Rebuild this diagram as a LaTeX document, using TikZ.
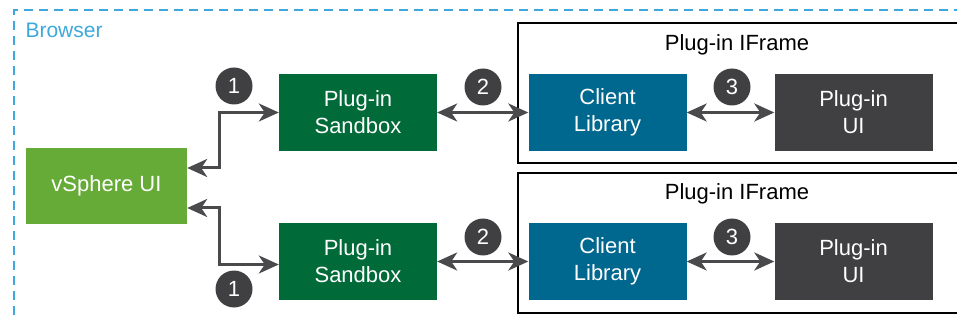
\documentclass[tikz,border=0pt]{standalone}
\usepackage{fontspec}
\setmainfont{Liberation Sans}
\usetikzlibrary{arrows.meta,positioning}
\definecolor{vsgreen}{HTML}{66AA37}
\definecolor{sbgreen}{HTML}{006A38}
\definecolor{libblue}{HTML}{00678E}
\definecolor{uigray}{HTML}{404042}
\definecolor{arrowgray}{HTML}{4A4A4C}
\definecolor{browserblue}{HTML}{3DA8DC}

\begin{document}
\begin{tikzpicture}[x=1pt,y=-1pt,on grid,>={Stealth[length=20pt,width=18pt,inset=6pt]},
      box/.style={minimum width=158pt,minimum height=77pt,inner sep=0pt,text=white,align=center,
        font=\fontsize{22}{27}\selectfont},
      num/.style={circle,fill=uigray,text=white,minimum size=37pt,inner sep=0pt,font=\fontsize{22}{22}\selectfont},
      link/.style={<->,draw=arrowgray,line width=3pt},
      frame/.style={draw,line width=2.5pt}]
      \path[use as bounding box,clip] (0,0) rectangle (957,320);
      % browser
      \draw[browserblue,line width=2.5pt,dash pattern=on 9pt off 6pt] (14,330) -- (14,10) -- (970,10);
      \node[text=browserblue,anchor=west,font=\fontsize{21}{21}\selectfont] (browser) at (22,30) {Browser};
      % iframes
      \draw[frame] (518,23) rectangle (970,163);
      \draw[frame] (518,173) rectangle (970,313);
      \node[font=\fontsize{22}{22}\selectfont] (if1) at (737,45) {Plug-in IFrame};
      \node[font=\fontsize{22}{22}\selectfont] (if2) at (737,194) {Plug-in IFrame};
      % boxes
      \node[box,fill=vsgreen,minimum width=161pt,minimum height=76pt] (vs) at (106.5,186) {vSphere UI};
      \node[box,fill=sbgreen] (sb1) [above right=73.5pt and 251.5pt of vs] {Plug-in\\Sandbox};
      \node[box,fill=sbgreen] (sb2) [below=149pt of sb1] {Plug-in\\Sandbox};
      \node[box,fill=libblue] (cl1) [right=249.5pt of sb1] {Client\\Library};
      \node[box,fill=libblue] (cl2) [right=249.5pt of sb2] {Client\\Library};
      \node[box,fill=uigray] (ui1) [right=246pt of cl1] {Plug-in\\UI};
      \node[box,fill=uigray] (ui2) [right=246pt of cl2] {Plug-in\\UI};
      % links
      \draw[link] ([yshift=18pt]vs.east) -- ++(32,0) |- (sb1.west);
      \draw[link] ([yshift=-22pt]vs.east) -- ++(32,0) |- ([yshift=-3pt]sb2.west);
      \draw[link] (sb1) -- (cl1);
      \draw[link] (sb2) -- (cl2);
      \draw[link] (cl1) -- (ui1);
      \draw[link] (cl2) -- (ui2);
      % steps
      \node[num] (n1a) at (234,86) {1};
      \node[num] (n1b) at (234,289) {1};
      \node[num] (n2a) at (483,87) {2};
      \node[num] (n2b) at (483,237) {2};
      \node[num] (n3a) at (732,87) {3};
      \node[num] (n3b) at (732,237) {3};
    \end{tikzpicture}
\end{document}
